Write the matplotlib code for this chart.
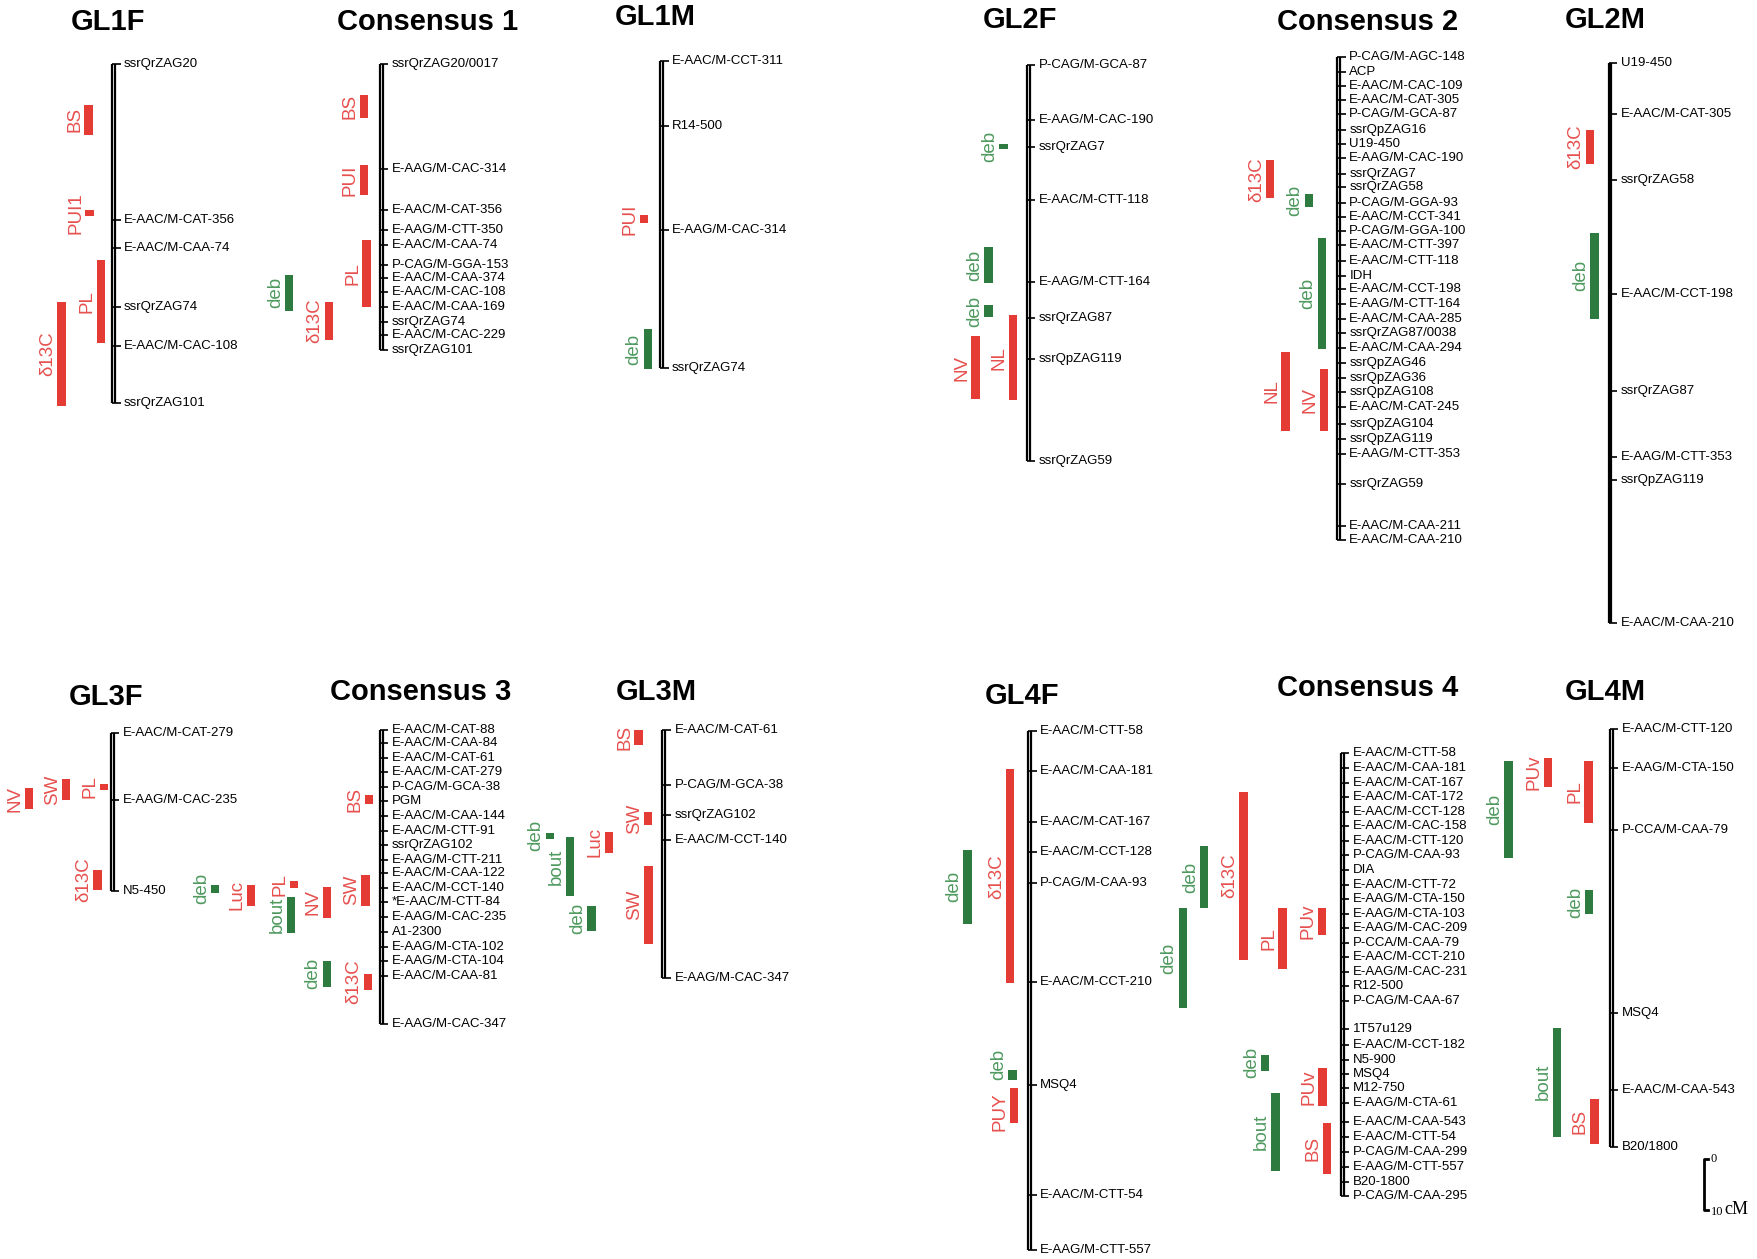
import matplotlib
# GUI 백엔드를 사용하지 않도록 설정
matplotlib.use('Agg')

import matplotlib.pyplot as plt

plt.rcParams['font.family'] = ['Liberation Sans', 'DejaVu Sans']

# 화면 좌표(축소본 1568x1123 기준)와 cM 환산
W, H = 1568, 1123
PX_PER_CM = 4.5

RED, GREEN = '#e53b35', '#2e7b3f'
RED_TXT, GREEN_TXT = '#e6504e', '#4f9a60'
GREEN_TRAITS = ('deb', 'bout')

# ---------------- 데이터 (cM) ----------------
gl1f_names = ['ssrQrZAG20', 'E-AAC/M-CAT-356', 'E-AAC/M-CAA-74', 'ssrQrZAG74',
              'E-AAC/M-CAC-108', 'ssrQrZAG101']
gl1f_cm = [0, 30.9, 36.4, 48.2, 56.0, 67.3]
gl1f_qtl = ['BS', 'PUI1', 'PL', 'δ13C']
gl1f_start = [8.2, 28.9, 38.9, 47.1]
gl1f_end = [14.0, 30.2, 55.3, 67.8]

con1_names = ['ssrQrZAG20/0017', 'E-AAG/M-CAC-314', 'E-AAC/M-CAT-356', 'E-AAG/M-CTT-350',
              'E-AAC/M-CAA-74', 'P-CAG/M-GGA-153', 'E-AAC/M-CAA-374', 'E-AAC/M-CAC-108',
              'E-AAC/M-CAA-169', 'ssrQrZAG74', 'E-AAC/M-CAC-229', 'ssrQrZAG101']
con1_cm = [0, 20.9, 28.9, 32.9, 35.8, 39.8, 42.4, 45.3, 48.2, 51.1, 53.8, 56.7]
con1_qtl = ['BS', 'PUI', 'PL', 'deb', 'δ13C']
con1_start = [6.2, 20.0, 34.9, 41.8, 47.1]
con1_end = [10.7, 26.0, 48.2, 48.9, 54.7]

gl1m_names = ['E-AAC/M-CCT-311', 'R14-500', 'E-AAG/M-CAC-314', 'ssrQrZAG74']
gl1m_cm = [0, 12.9, 33.6, 60.9]
gl1m_qtl = ['PUI', 'deb']
gl1m_start = [30.7, 53.3]
gl1m_end = [32.2, 61.1]

gl2f_names = ['P-CAG/M-GCA-87', 'E-AAG/M-CAC-190', 'ssrQrZAG7', 'E-AAC/M-CTT-118',
              'E-AAG/M-CTT-164', 'ssrQrZAG87', 'ssrQpZAG119', 'ssrQrZAG59']
gl2f_cm = [0, 10.9, 16.2, 26.7, 43.1, 50.2, 58.2, 78.4]
gl2f_qtl = ['deb', 'deb', 'deb', 'NV', 'NL']
gl2f_start = [15.6, 36.0, 47.6, 53.8, 49.6]
gl2f_end = [16.7, 43.3, 50.0, 66.2, 66.4]

con2_names = ['P-CAG/M-AGC-148', 'ACP', 'E-AAC/M-CAC-109', 'E-AAC/M-CAT-305', 'P-CAG/M-GCA-87',
              'ssrQpZAG16', 'U19-450', 'E-AAG/M-CAC-190', 'ssrQrZAG7', 'ssrQrZAG58',
              'P-CAG/M-GGA-93', 'E-AAC/M-CCT-341', 'P-CAG/M-GGA-100', 'E-AAC/M-CTT-397',
              'E-AAC/M-CTT-118', 'IDH', 'E-AAC/M-CCT-198', 'E-AAG/M-CTT-164', 'E-AAC/M-CAA-285',
              'ssrQrZAG87/0038', 'E-AAC/M-CAA-294', 'ssrQpZAG46', 'ssrQpZAG36', 'ssrQpZAG108',
              'E-AAC/M-CAT-245', 'ssrQpZAG104', 'ssrQpZAG119', 'E-AAG/M-CTT-353', 'ssrQrZAG59',
              'E-AAC/M-CAA-211', 'E-AAC/M-CAA-210']
con2_cm = [0, 2.9, 5.8, 8.4, 11.3, 14.4, 17.3, 20.0, 23.1, 25.8, 28.9, 31.6, 34.4, 37.3,
           40.4, 43.3, 46.0, 48.9, 51.8, 54.7, 57.6, 60.7, 63.6, 66.4, 69.3, 72.7, 75.6,
           78.7, 84.7, 92.9, 95.8]
con2_qtl = ['δ13C', 'deb', 'deb', 'NL', 'NV']
con2_start = [20.4, 27.1, 35.8, 58.4, 61.8]
con2_end = [28.0, 29.6, 57.8, 74.0, 74.0]

gl2m_names = ['U19-450', 'E-AAC/M-CAT-305', 'ssrQrZAG58', 'E-AAC/M-CCT-198', 'ssrQrZAG87',
              'E-AAG/M-CTT-353', 'ssrQpZAG119', 'E-AAC/M-CAA-210']
gl2m_cm = [0, 10.2, 23.3, 45.8, 65.1, 78.2, 82.7, 111.1]
gl2m_qtl = ['δ13C', 'deb']
gl2m_start = [13.3, 33.8]
gl2m_end = [20.0, 50.7]

gl3f_names = ['E-AAC/M-CAT-279', 'E-AAG/M-CAC-235', 'N5-450']
gl3f_cm = [0, 13.3, 31.3]
gl3f_qtl = ['NV', 'SW', 'PL', 'δ13C', 'deb']
gl3f_start = [10.9, 9.1, 10.0, 27.1, 30.0]
gl3f_end = [15.1, 13.3, 11.3, 31.1, 31.6]

con3_names = ['E-AAC/M-CAT-88', 'E-AAC/M-CAA-84', 'E-AAC/M-CAT-61', 'E-AAC/M-CAT-279',
              'P-CAG/M-GCA-38', 'PGM', 'E-AAC/M-CAA-144', 'E-AAC/M-CTT-91', 'ssrQrZAG102',
              'E-AAG/M-CTT-211', 'E-AAC/M-CAA-122', 'E-AAC/M-CCT-140', '*E-AAC/M-CTT-84',
              'E-AAG/M-CAC-235', 'A1-2300', 'E-AAG/M-CTA-102', 'E-AAG/M-CTA-104',
              'E-AAC/M-CAA-81', 'E-AAG/M-CAC-347']
con3_cm = [0, 2.7, 5.6, 8.4, 11.3, 14.2, 17.1, 20.0, 22.9, 25.8, 28.4, 31.3, 34.2, 37.1,
           40.0, 43.1, 45.8, 48.7, 58.4]
con3_qtl = ['BS', 'SW', 'NV', 'PL', 'bout', 'Luc', 'deb', 'δ13C']
con3_start = [12.9, 28.7, 31.1, 30.0, 33.1, 30.7, 45.8, 48.4]
con3_end = [14.7, 34.9, 37.3, 31.3, 40.2, 34.9, 50.9, 51.6]

gl3m_names = ['E-AAC/M-CAT-61', 'P-CAG/M-GCA-38', 'ssrQrZAG102', 'E-AAC/M-CCT-140',
              'E-AAG/M-CAC-347']
gl3m_cm = [0, 10.9, 16.9, 21.8, 49.1]
gl3m_qtl = ['BS', 'SW', 'Luc', 'deb', 'bout', 'deb', 'SW']
gl3m_start = [0, 16.2, 20.2, 20.4, 21.3, 34.9, 26.9]
gl3m_end = [3.1, 18.9, 24.4, 21.6, 32.9, 39.8, 42.4]

gl4f_names = ['E-AAC/M-CTT-58', 'E-AAC/M-CAA-181', 'E-AAC/M-CAT-167', 'E-AAC/M-CCT-128',
              'P-CAG/M-CAA-93', 'E-AAC/M-CCT-210', 'MSQ4', 'E-AAC/M-CTT-54', 'E-AAG/M-CTT-557']
gl4f_cm = [0, 8.0, 18.0, 24.0, 30.2, 49.8, 70.2, 92.0, 102.9]
gl4f_qtl = ['δ13C', 'deb', 'deb', 'PUY']
gl4f_start = [7.6, 23.6, 67.3, 70.7]
gl4f_end = [50.0, 38.2, 69.1, 77.8]

con4_names = ['E-AAC/M-CTT-58', 'E-AAC/M-CAA-181', 'E-AAC/M-CAT-167', 'E-AAC/M-CAT-172',
              'E-AAC/M-CCT-128', 'E-AAC/M-CAC-158', 'E-AAC/M-CTT-120', 'P-CAG/M-CAA-93', 'DIA',
              'E-AAC/M-CTT-72', 'E-AAG/M-CTA-150', 'E-AAG/M-CTA-103', 'E-AAG/M-CAC-209',
              'P-CCA/M-CAA-79', 'E-AAC/M-CCT-210', 'E-AAG/M-CAC-231', 'R12-500', 'P-CAG/M-CAA-67',
              '1T57u129', 'E-AAC/M-CCT-182', 'N5-900', 'MSQ4', 'M12-750', 'E-AAG/M-CTA-61',
              'E-AAC/M-CAA-543', 'E-AAC/M-CTT-54', 'P-CAG/M-CAA-299', 'E-AAG/M-CTT-557',
              'B20-1800', 'P-CAG/M-CAA-295']
con4_cm = [0, 2.9, 5.8, 8.7, 11.6, 14.4, 17.3, 20.2, 23.1, 26.0, 28.9, 31.8, 34.7, 37.6,
           40.4, 43.3, 46.2, 49.1, 54.7, 57.8, 60.7, 63.6, 66.4, 69.3, 73.1, 76.0, 79.1,
           82.0, 84.9, 87.8]
con4_qtl = ['δ13C', 'deb', 'deb', 'PL', 'PUv', 'deb', 'bout', 'PUv', 'BS']
con4_start = [7.6, 18.4, 30.7, 30.7, 30.7, 59.8, 67.3, 62.4, 73.3]
con4_end = [40.9, 30.7, 50.4, 42.7, 36.0, 62.9, 82.7, 69.8, 83.3]

gl4m_names = ['E-AAC/M-CTT-120', 'E-AAG/M-CTA-150', 'P-CCA/M-CAA-79', 'MSQ4',
              'E-AAC/M-CAA-543', 'B20/1800']
gl4m_cm = [0, 7.8, 20.0, 56.4, 71.6, 82.9]
gl4m_qtl = ['deb', 'PUv', 'PL', 'deb', 'bout', 'BS']
gl4m_start = [6.4, 5.8, 6.4, 32.0, 59.3, 73.3]
gl4m_end = [25.6, 11.6, 18.7, 36.7, 80.9, 82.4]

scale_cm = [0, 10]

# ---------------- 배치 (화면 px) ----------------
# (제목, 데이터, 염색체 x, 0cM y, 제목 dx, 제목 y, QTL 막대 x 오프셋)
groups = [
    ('GL1F', gl1f_names, gl1f_cm, gl1f_qtl, gl1f_start, gl1f_end,
     101, 57, -5, 20, [-22, -21, -11, -46]),
    ('Consensus 1', con1_names, con1_cm, con1_qtl, con1_start, con1_end,
     340, 57, 41, 20, [-15.5, -15.5, -13, -82, -46.5]),
    ('GL1M', gl1m_names, gl1m_cm, gl1m_qtl, gl1m_start, gl1m_end,
     590, 54, -6, 15, [-15.5, -12]),
    ('GL2F', gl2f_names, gl2f_cm, gl2f_qtl, gl2f_start, gl2f_end,
     917, 58, -7, 18, [-22, -35.5, -35.5, -47, -13.5]),
    ('Consensus 2', con2_names, con2_cm, con2_qtl, con2_start, con2_end,
     1194, 51, 26, 20, [-61, -26.5, -15, -47.5, -13]),
    ('GL2M', gl2m_names, gl2m_cm, gl2m_qtl, gl2m_start, gl2m_end,
     1436, 56, -4, 18, [-18, -14]),
    ('GL3F', gl3f_names, gl3f_cm, gl3f_qtl, gl3f_start, gl3f_end,
     100, 654, -5, 622, [-74, -41, -7, -13, 92]),
    ('Consensus 3', con3_names, con3_cm, con3_qtl, con3_start, con3_end,
     340, 651, 35, 617, [-11, -14, -48.5, -78, -80.5, -116, -48.5, -12]),
    ('GL3M', gl3m_names, gl3m_cm, gl3m_qtl, gl3m_start, gl3m_end,
     592, 651, -7, 617, [-22.5, -14, -49, -101.5, -83.5, -64.5, -13.5]),
    ('GL4F', gl4f_names, gl4f_cm, gl4f_qtl, gl4f_start, gl4f_end,
     918, 652, -6, 621, [-17, -55, -15, -13.5]),
    ('Consensus 4', con4_names, con4_cm, con4_qtl, con4_start, con4_end,
     1197, 672, 23, 614, [-88, -123, -142, -53, -18, -68.5, -59.5, -17.5, -13.5]),
    ('GL4M', gl4m_names, gl4m_cm, gl4m_qtl, gl4m_start, gl4m_end,
     1437, 650, -5, 617, [-91.5, -56.5, -20, -19.5, -48.5, -15]),
]

# 라벨이 겹치는 곳만 세로로 살짝 이동 (그룹, 순번) -> cM
label_nudge = {('GL4F', 2): -2.0, ('GL4F', 3): 1.2}

fig = plt.figure(figsize=(17.58, 12.59), dpi=100)


def group_axes(cx, top):
    # 그림 전체를 덮는 투명 축: x는 염색체 기준 px, y는 cM
    ax = fig.add_axes([0, 0, 1, 1])
    ax.set_xlim(-cx, W - cx)
    ax.set_ylim((H - top) / PX_PER_CM, -top / PX_PER_CM)
    ax.axis('off')
    ax.patch.set_alpha(0)
    return ax


for (title, names, cms, traits, starts, ends, cx, top, tdx, ty, bar_x) in groups:
    ax = group_axes(cx, top)
    y0, y1 = min(cms), max(cms)

    # 염색체 (이중선)
    for dx in (-1.3, 1.3):
        ax.plot([dx, dx], [y0, y1], color='black', lw=1.6, solid_capstyle='butt')
    ax.hlines(cms, -1.3, 6.5, color='black', lw=1.2)
    for n, c in zip(names, cms):
        ax.text(9.5, c, n, fontsize=9.5, ha='left', va='center')

    # QTL 막대
    for i, (t, s, e, bx) in enumerate(zip(traits, starts, ends, bar_x)):
        green = t in GREEN_TRAITS
        ax.bar(bx, e - s, bottom=s, width=7.5, color=GREEN if green else RED, linewidth=0)
        ly = (s + e) / 2 + label_nudge.get((title, i), 0)
        ax.text(bx - 4.8, ly, t, rotation=90, ha='right', va='center',
                fontsize=13.5, color=GREEN_TXT if green else RED_TXT)

    ax.text(tdx, (ty - top) / PX_PER_CM, title, ha='center', va='center',
            fontsize=21, fontweight='bold')

# 축척 막대 (0 - 10 cM)
ax = group_axes(1520, 1034)
ax.plot([3, 0, 0, 3], [scale_cm[0], scale_cm[0], scale_cm[1], scale_cm[1]],
        color='black', lw=2)
ax.text(6, scale_cm[0], '0', fontsize=9, family='Liberation Serif', ha='left', va='center')
ax.text(6, scale_cm[1] + 0.4, '10', fontsize=9, family='Liberation Serif', ha='left', va='center')
ax.text(18, scale_cm[1], 'cM', fontsize=13, family='Liberation Serif', ha='left', va='center')

plt.savefig('out.png', dpi=100)
plt.close()
